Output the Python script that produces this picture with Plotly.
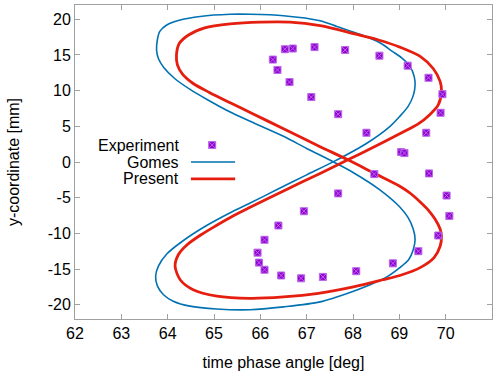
import plotly.graph_objects as go

# Gomes model trajectory (time phase angle [deg], y-coordinate [mm])
gomes_x = [65.35, 65.78, 66.35, 67.00, 67.58, 68.29, 68.80, 69.01, 69.19, 69.30, 69.34, 69.32,
           69.23, 69.05, 68.85, 68.58, 68.15, 67.65, 67.29, 66.50, 65.78, 65.35, 64.70, 64.27,
           63.98, 63.83, 63.78, 63.76, 63.80, 63.92, 64.15, 64.50, 64.84, 65.35, 65.78, 66.50,
           67.00, 67.58, 68.01, 68.58, 69.01, 69.19, 69.30, 69.34, 69.30, 69.20, 69.01, 68.73,
           68.37, 68.01, 67.29, 66.50, 65.78, 65.06, 64.48, 64.12, 63.91, 63.78, 63.74, 63.80,
           63.98, 64.34, 64.84, 65.35]
gomes_y = [-7.1, -5.75, -3.9, -1.8, 0.05, 2.6, 5.0, 6.4, 7.8, 9.3, 10.8, 12.0,
           13.4, 14.6, 15.5, 16.7, 17.9, 19.0, 19.8, 20.5, 20.7, 20.7, 20.4, 19.9,
           19.2, 18.3, 17.2, 15.7, 14.5, 13.2, 11.7, 10.1, 8.8, 7.0, 5.7, 3.6,
           1.9, 0.0, -1.5, -3.9, -6.3, -7.8, -9.4, -10.9, -12.3, -13.7, -14.8, -16.1,
           -17.2, -18.1, -19.6, -20.3, -20.7, -20.6, -20.2, -19.5, -18.6, -17.4, -16.0, -14.6,
           -12.9, -11.0, -8.9, -7.1]

# Present model trajectory
present_x = [64.23, 64.42, 64.72, 65.05, 65.40, 65.78, 66.50, 67.29, 67.89, 68.45, 69.05, 69.40,
             69.65, 69.84, 69.91, 69.88, 69.73, 69.45, 69.01, 68.55, 68.01, 67.29, 66.64, 66.00,
             65.35, 64.80, 64.45, 64.25, 64.19, 64.21, 64.32, 64.55, 64.90, 65.35, 65.78, 66.50,
             67.29, 67.89, 68.45, 69.01, 69.25, 69.45, 69.62, 69.77, 69.88, 69.91, 69.88, 69.75,
             69.45, 69.01, 68.65, 68.01, 67.25, 66.50, 65.78, 65.06, 64.55, 64.27, 64.16, 64.23]
present_y = [-13.0, -11.6, -10.2, -8.9, -7.6, -6.35, -4.05, -1.6, 0.3, 2.1, 4.1, 5.3,
             6.6, 8.0, 9.9, 11.3, 13.1, 14.8, 16.1, 17.1, 18.0, 19.1, 19.6, 19.6,
             19.35, 18.8, 17.8, 16.6, 15.0, 13.6, 12.3, 11.0, 9.75, 8.3, 6.95, 4.65,
             2.15, 0.3, -1.55, -3.4, -4.45, -5.6, -6.7, -8.0, -9.4, -10.4, -11.8, -13.4,
             -14.8, -15.9, -16.5, -17.5, -18.4, -18.9, -19.1, -18.8, -17.9, -16.5, -14.6, -13.0]

# Measured positions
exp_x = [66.53, 66.70, 67.17, 67.83, 68.57, 69.18, 69.63, 69.93, 69.89, 69.58, 69.04, 69.11,
         69.64, 68.46, 68.29, 67.68, 67.10, 66.63, 66.37, 66.27,
         67.68, 70.02, 70.08, 66.94, 66.39, 66.09, 65.94, 65.97, 66.09, 66.45, 66.88, 67.35,
         68.07, 68.86, 69.41, 69.84]
exp_y = [15.8, 15.9, 16.1, 15.7, 14.9, 13.5, 11.8, 9.5, 6.9, 4.1, 1.4, 1.25,
         -1.6, -1.7, 4.1, 6.7, 9.1, 11.2, 12.9, 14.35,
         -4.4, -4.7, -7.55, -6.9, -8.9, -10.9, -12.7, -14.1, -15.1, -15.9, -16.3, -16.1,
         -15.3, -14.2, -12.5, -10.3]

x_ticks = [62, 63, 64, 65, 66, 67, 68, 69, 70, 71]
y_ticks = [-20, -15, -10, -5, 0, 5, 10, 15, 20]

C_EXP = "#9400d3"
C_GOMES = "#0072b2"
C_PRESENT = "#e51e10"
FONT = "Liberation Sans, Arial, sans-serif"
AXIS_GREY = "#a0a0a0"

exp_marker = dict(symbol="square-x", size=7, color=C_EXP, line=dict(color="#b868e8", width=1))
gomes_line = dict(color=C_GOMES, width=1.6)
present_line = dict(color=C_PRESENT, width=2.8)

fig = go.Figure()
fig.add_trace(go.Scatter(x=gomes_x, y=gomes_y, mode="lines", name="Gomes",
                         line=dict(**gomes_line, shape="spline", smoothing=0.8)))
fig.add_trace(go.Scatter(x=present_x, y=present_y, mode="lines", name="Present",
                         line=dict(**present_line, shape="spline", smoothing=0.8)))
fig.add_trace(go.Scatter(x=exp_x, y=exp_y, mode="markers", name="Experiment", marker=exp_marker))

# Key: labels on the left, samples on the right (paper-fraction overlay axes)
key_rows = [("Experiment", 0.554), ("Gomes", 0.500), ("Present", 0.446)]
key_text_right = 0.254
key_line = [0.278, 0.384]
key_mark = 0.329
for label, ky in key_rows:
    fig.add_annotation(x=key_text_right, y=ky, xref="paper", yref="paper", text=label,
                       showarrow=False, xanchor="right", yanchor="middle",
                       font=dict(family=FONT, size=16, color="black"))
fig.add_trace(go.Scatter(x=[key_mark], y=[key_rows[0][1]], xaxis="x2", yaxis="y2",
                         mode="markers", marker=exp_marker, showlegend=False, hoverinfo="skip"))
fig.add_trace(go.Scatter(x=key_line, y=[key_rows[1][1]] * 2, xaxis="x2", yaxis="y2",
                         mode="lines", line=gomes_line, showlegend=False, hoverinfo="skip"))
fig.add_trace(go.Scatter(x=key_line, y=[key_rows[2][1]] * 2, xaxis="x2", yaxis="y2",
                         mode="lines", line=present_line, showlegend=False, hoverinfo="skip"))

axis_common = dict(showline=True, linecolor=AXIS_GREY, linewidth=1, mirror="ticks",
                   ticks="inside", ticklen=5, tickcolor=AXIS_GREY, tickwidth=1,
                   showgrid=False, zeroline=False,
                   tickfont=dict(family=FONT, size=16, color="black"))

fig.update_layout(
    width=500, height=379,
    margin=dict(l=75, r=8, t=5, b=60),
    paper_bgcolor="white", plot_bgcolor="white",
    showlegend=False,
    xaxis=dict(range=[62, 71], tickvals=x_ticks, ticktext=[str(v) for v in x_ticks],
               title=dict(text="time phase angle [deg]", standoff=15,
                          font=dict(family=FONT, size=16, color="black")),
               **axis_common),
    yaxis=dict(range=[-22, 22], tickvals=y_ticks, ticktext=[str(v) for v in y_ticks],
               title=dict(text="y-coordinate [mm]", standoff=24,
                          font=dict(family=FONT, size=16, color="black")),
               **axis_common),
    xaxis2=dict(overlaying="x", range=[0, 1], visible=False, fixedrange=True),
    yaxis2=dict(overlaying="y", range=[0, 1], visible=False, fixedrange=True),
)

fig.write_html("out.html")
